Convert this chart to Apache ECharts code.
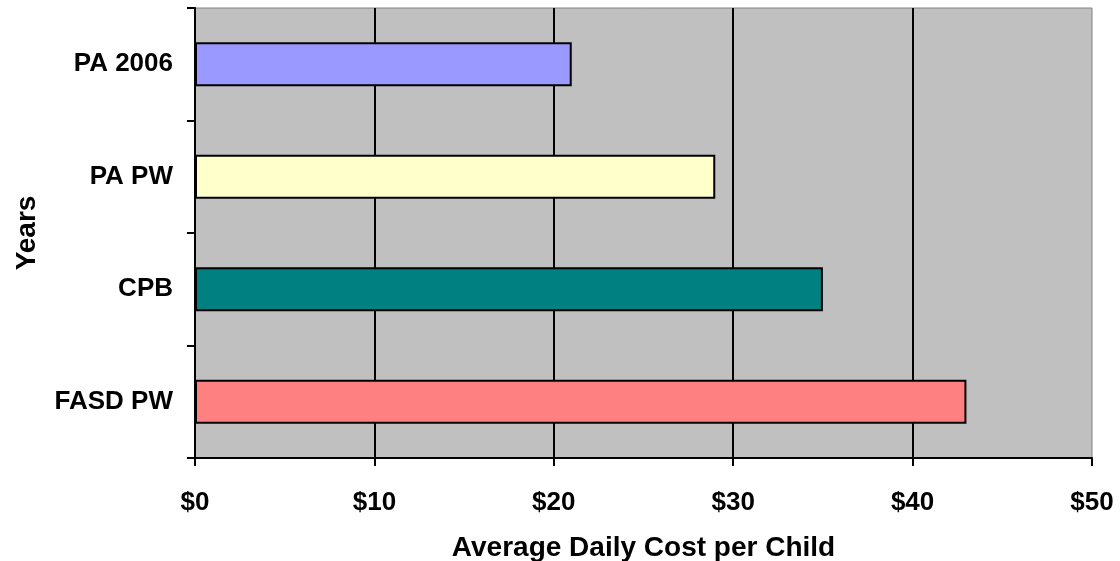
<!DOCTYPE html>
<html>
<head>
<meta charset="utf-8">
<script src="https://cdn.jsdelivr.net/npm/echarts@6/dist/echarts.min.js"></script>
<style>
  html, body { margin: 0; padding: 0; background: #fff; }
  #chart { width: 1120px; height: 561px; }
</style>
</head>
<body>
<div id="chart"></div>
<script>
// Program categories, top to bottom
const categories = ['PA 2006', 'PA PW', 'CPB', 'FASD PW'];
// Average daily cost per child, in dollars
const costs = [21, 29, 35, 43];
// One fill colour per bar
const barColors = ['#9999FF', '#FFFFCC', '#008080', '#FF8080'];
// Cost axis range and step
const costMin = 0;
const costMax = 50;
const costStep = 10;

const font = '"Liberation Sans", Arial, sans-serif';

const chart = echarts.init(document.getElementById('chart'));
chart.setOption({
  animation: false,
  backgroundColor: '#ffffff',
  grid: {
    left: 195, right: 28, top: 8, bottom: 103,
    outerBoundsMode: 'none',
    containLabel: false,
    show: true,
    backgroundColor: '#C0C0C0',
    borderColor: '#808080',
    borderWidth: 1
  },
  xAxis: {
    type: 'value',
    min: costMin, max: costMax, interval: costStep,
    name: 'Average Daily Cost per Child',
    nameLocation: 'middle',
    nameGap: 76,
    nameTextStyle: { fontFamily: font, fontWeight: 'bold', fontSize: 28, color: '#000' },
    axisLine: { show: true, lineStyle: { color: '#000', width: 2 } },
    axisTick: { show: true, length: 8, lineStyle: { color: '#000', width: 2 } },
    axisLabel: {
      margin: 32,
      fontFamily: font, fontWeight: 'bold', fontSize: 26, color: '#000',
      formatter: v => '$' + v
    },
    splitLine: { show: true, showMinLine: false, showMaxLine: false, lineStyle: { color: '#000', width: 2 } }
  },
  yAxis: {
    type: 'category',
    data: categories,
    inverse: true,
    name: 'Years',
    nameLocation: 'middle',
    nameGap: 154,
    nameRotate: 90,
    nameTextStyle: { fontFamily: font, fontWeight: 'bold', fontSize: 28, color: '#000' },
    axisLine: { show: true, lineStyle: { color: '#000', width: 2 } },
    axisTick: { show: true, length: 8, lineStyle: { color: '#000', width: 2 } },
    axisLabel: {
      margin: 22,
      fontFamily: font, fontWeight: 'bold', fontSize: 26, color: '#000'
    },
    splitLine: { show: false }
  },
  series: [{
    type: 'bar',
    barWidth: '39%',
    data: costs.map((v, i) => ({
      value: v,
      itemStyle: { color: barColors[i] }
    })),
    itemStyle: { borderColor: '#000', borderWidth: 2 }
  }]
});
</script>
</body>
</html>
